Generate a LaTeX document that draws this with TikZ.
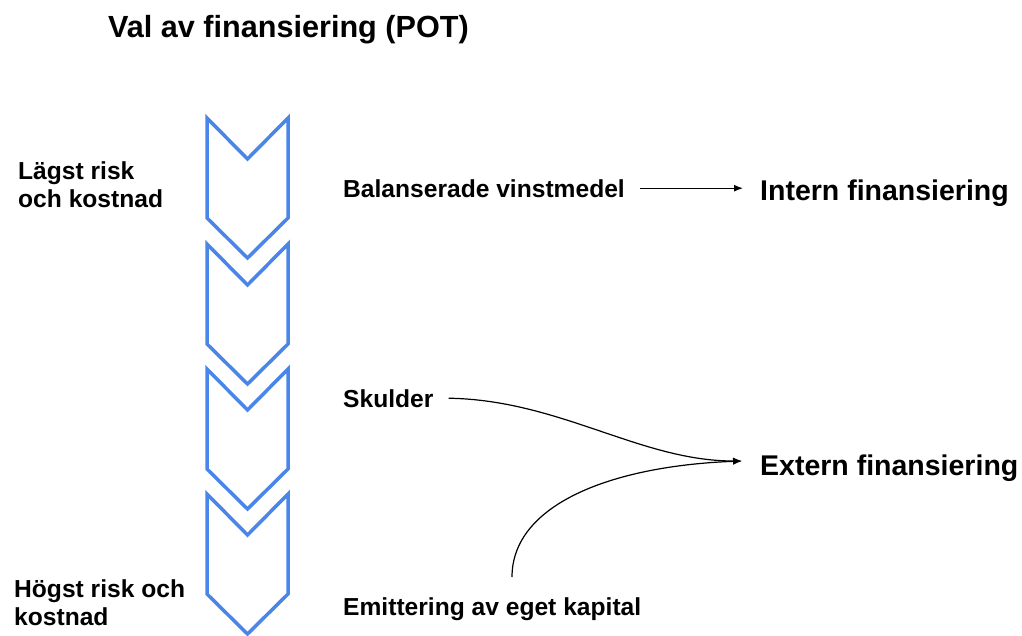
\documentclass[tikz,border=0pt]{standalone}
\usepackage{fontspec}
\setmainfont{Liberation Sans}
\usetikzlibrary{calc,arrows.meta}
\definecolor{chev}{HTML}{4A86E8}
\begin{document}
\begin{tikzpicture}[x=1pt,y=-1pt,
  lbl/.style={font=\bfseries\fontsize{24.6}{28}\selectfont, inner sep=0pt, anchor=base west},
  big/.style={font=\bfseries\fontsize{28.5}{34}\selectfont, inner sep=0pt, anchor=base west},
  ttl/.style={font=\bfseries\fontsize{30.6}{36}\selectfont, inner sep=0pt, anchor=base west},
  chevron/.style={draw=chev, line width=3.5pt},
  conn/.style={line width=1.2pt, -{Latex[length=9pt,width=7pt]}}]
\useasboundingbox (0,0) rectangle (1022,635);
\node[ttl] (title) at (108,37) {Val av finansiering (POT)};
\foreach \t in {118,244,369,494}{
  \draw[chevron] (207,\t) -- (247.5,\t+41) -- (288,\t) -- (288,\t+100)
     -- (247.5,\t+140) -- (207,\t+100) -- cycle;
}
\node[lbl] (bal) at (343,197) {Balanserade vinstmedel};
\node[big] (intern) at (760,200) {Intern finansiering};
\node[lbl] (skulder) at (343,407) {Skulder};
\node[big] (extern) at (760,475) {Extern finansiering};
\node[lbl] (emit) at (343,615) {Emittering av eget kapital};
\node[lbl, align=left] (lagst) at (18,207) {Lägst risk\\och kostnad};
\node[lbl, align=left] (hogst) at (14,625) {Högst risk och\\kostnad};
\coordinate (extin) at ($(extern.base west)+(-18,-14)$);
\coordinate (emtop) at ($(emit.base west)+(169,-38)$);
\draw[conn] ($(bal.east)+(15,0)$) -- ($(bal.east -| intern.west)+(-17,0)$);
\draw[conn] ($(skulder.east)+(15,0)$) .. controls (560,400) and (640,461) .. (extin);
\draw[conn] (emtop) .. controls (512,505) and (610,466) .. (extin);
\end{tikzpicture}
\end{document}
